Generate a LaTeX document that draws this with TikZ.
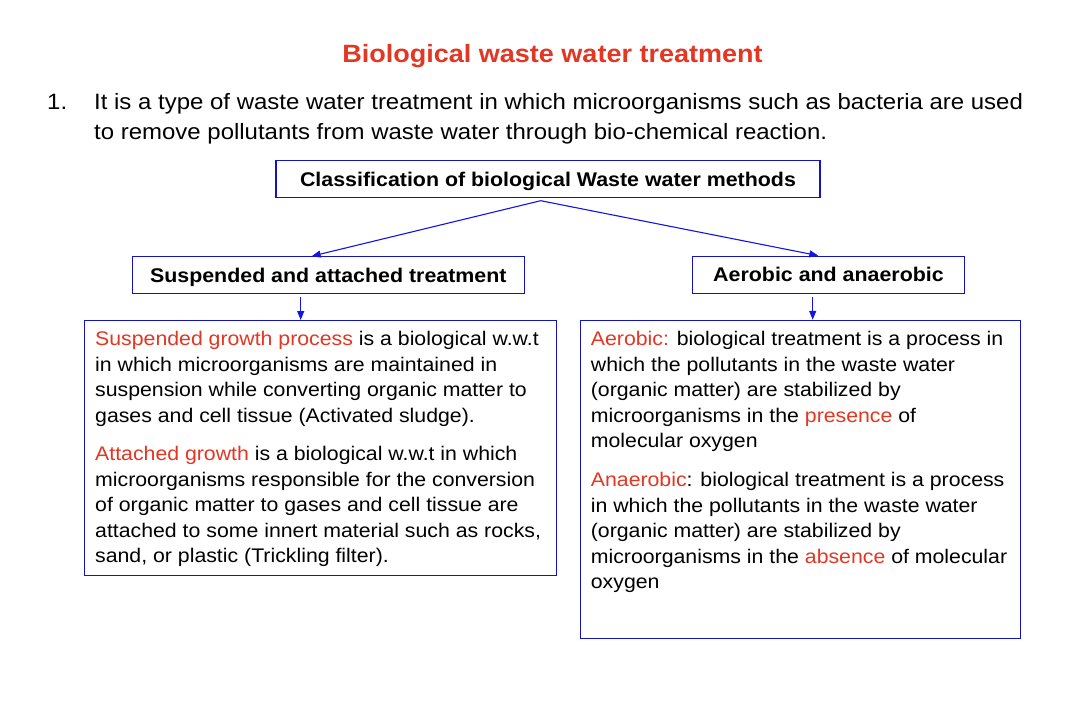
\documentclass[tikz,border=0pt]{standalone}
\usepackage{fontspec}
\setmainfont{Liberation Sans}[FakeStretch=1.08]
\usetikzlibrary{arrows.meta}
\definecolor{tred}{RGB}{225,55,35}
\definecolor{bblue}{RGB}{20,20,190}
\definecolor{ablue}{RGB}{20,20,230}
\newcommand{\rd}[1]{\textcolor{tred}{#1}}
\begin{document}
\begin{tikzpicture}[x=1pt,y=-1pt,
  labelbox/.style={draw=bblue,line width=1.1pt,inner sep=0pt,text height=16pt,text depth=2pt,
    font=\fontsize{19.8}{24}\selectfont\bfseries},
  bigbox/.style={draw=bblue,line width=1.1pt,inner sep=0pt},
  bodytext/.style={anchor=north west,inner sep=0pt,align=left,font=\fontsize{19.7}{25.5}\selectfont},
  conn/.style={draw=ablue,line width=1.1pt,-{Triangle[length=9pt,width=7pt]}}]
\useasboundingbox[fill=white] (0,0) rectangle (1080,720);

\node[font=\fontsize{25}{30}\selectfont\bfseries, text=tred, anchor=base, inner sep=0pt] (title) at (552.5,62.5) {Biological waste water treatment};

\node[anchor=base west, inner sep=0pt, font=\fontsize{22.2}{30}\selectfont] (num) at (47,109) {1.};
\node[anchor=north west, inner sep=0pt, align=left, font=\fontsize{22.2}{30}\selectfont] (item) at (94,88)
  {\strut It is a type of waste water treatment in which microorganisms such as bacteria are used\\to remove pollutants from waste water through bio-chemical reaction.};

\node[labelbox, minimum width=544pt, minimum height=36.5pt] (cls) at (548,179) {Classification of biological Waste water methods};
\node[labelbox, minimum width=392pt, minimum height=36.5pt] (sat) at (328.3,275) {Suspended and attached treatment};
\node[labelbox, minimum width=271.6pt, minimum height=37pt] (aa) at (828.5,274.7) {Aerobic and anaerobic};
\node[bigbox, minimum width=472.4pt, minimum height=254.5pt] (lb) at (320.5,447.8) {};
\node[bigbox, minimum width=440pt, minimum height=318.5pt] (rb) at (800.7,479.6) {};

\coordinate (apex) at (540.7,200.7);
\draw[conn] (apex) -- ([xshift=-16.6pt]sat.north);
\draw[conn] (apex) -- ([xshift=-10.2pt]aa.north);
\draw[conn] ([xshift=-27.6pt,yshift=-3.4pt]sat.south) -- ([xshift=-27.6pt]sat.south |- lb.north);
\draw[conn] ([xshift=-15.8pt,yshift=-3.4pt]aa.south) -- ([xshift=-15.8pt]aa.south |- rb.north);

\node[bodytext] (lp1) at (95,327.65)
  {\strut\rd{Suspended growth process} is a biological w.w.t\\in which microorganisms are maintained in\\suspension while converting organic matter to\\gases and cell tissue (Activated sludge).};
\node[bodytext] (lp2) at (95,442.65)
  {\strut\rd{Attached growth} is a biological w.w.t in which\\microorganisms responsible for the conversion\\of organic matter to gases and cell tissue are\\attached to some innert material such as rocks,\\sand, or plastic (Trickling filter).};
\node[bodytext] (rp1) at (590.7,327.65)
  {\strut\rd{Aerobic:} biological treatment is a process in\\which the pollutants in the waste water\\(organic matter) are stabilized by\\microorganisms in the \rd{presence} of\\molecular oxygen};
\node[bodytext] (rp2) at (590.7,468.65)
  {\strut\rd{Anaerobic}: biological treatment is a process\\in which the pollutants in the waste water\\(organic matter) are stabilized by\\microorganisms in the \rd{absence} of molecular\\oxygen};
\end{tikzpicture}
\end{document}
